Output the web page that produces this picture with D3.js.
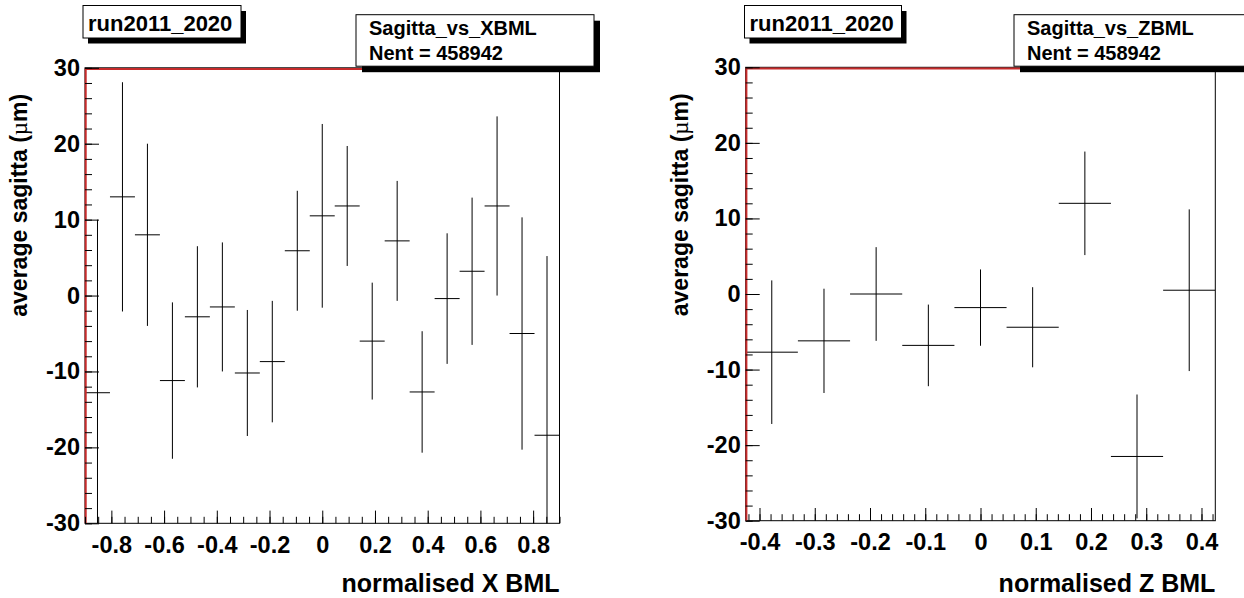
<!DOCTYPE html>
<html>
<head>
<meta charset="utf-8">
<script src="https://cdn.jsdelivr.net/npm/d3@7"></script>
<style>
  body { margin: 0; background: #fff; }
  svg text { font-family: "Liberation Sans", Arial, sans-serif; font-weight: bold; fill: #000; }
  .tick text { font-size: 23.5px; }
</style>
</head>
<body>
<div id="wrapper"></div>
<script>

// 1. Data

const runLabel = "run2011_2020"
const entryCount = 458942
const yTicks = [-30, -20, -10, 0, 10, 20, 30]

// Sagitta vs X BML: 19 bins on [-0.9, 0.9]
const xbmlCenters = [-0.8526, -0.7579, -0.6632, -0.5684, -0.4737, -0.3789, -0.2842, -0.1895, -0.0947, 0,
  0.0947, 0.1895, 0.2842, 0.3789, 0.4737, 0.5684, 0.6632, 0.7579, 0.8526]
const xbmlMean = [-12.8, 13.0, 8.0, -11.2, -2.8, -1.5, -10.2, -8.7, 5.9, 10.5,
  11.8, -6.0, 7.2, -12.7, -0.4, 3.2, 11.8, -5.0, -18.4]
const xbmlErr = [22.8, 15.1, 12.0, 10.3, 9.3, 8.5, 8.3, 8.0, 7.9, 12.1,
  7.9, 7.7, 7.9, 8.0, 8.6, 9.7, 11.8, 15.3, 23.6]
const xbmlTicks = [-0.8, -0.6, -0.4, -0.2, 0, 0.2, 0.4, 0.6, 0.8]

// Sagitta vs Z BML: 9 bins on [-0.425, 0.425]
const zbmlCenters = [-0.3778, -0.2833, -0.1889, -0.0944, 0, 0.0944, 0.1889, 0.2833, 0.3778]
const zbmlMean = [-7.7, -6.2, 0.0, -6.8, -1.8, -4.4, 12.0, -21.5, 0.5]
const zbmlErr = [9.5, 6.9, 6.2, 5.4, 5.05, 5.3, 6.85, 8.2, 10.7]
const zbmlTicks = [-0.4, -0.3, -0.2, -0.1, 0, 0.1, 0.2, 0.3, 0.4]

// 2. Layout

const width = 1244
const height = 598

const panels = [
  {
    name: "Sagitta_vs_XBML", xTitle: "normalised X BML",
    centers: xbmlCenters, mean: xbmlMean, err: xbmlErr, ticks: xbmlTicks,
    domain: [-0.9, 0.9], bins: 19, minorStep: 0.05,
    frame: { left: 85, right: 559.5, top: 67.8, bottom: 523.3 },
    runBox: { x: 83, y: 5.5, w: 158, h: 32.5 },
    statsBox: { x: 356, y: 14.7, w: 238, h: 51.5 },
    yTitleX: 27,
  },
  {
    name: "Sagitta_vs_ZBML", xTitle: "normalised Z BML",
    centers: zbmlCenters, mean: zbmlMean, err: zbmlErr, ticks: zbmlTicks,
    domain: [-0.425, 0.425], bins: 9, minorStep: 0.02,
    frame: { left: 745.7, right: 1215.3, top: 67.3, bottom: 520.7 },
    runBox: { x: 744.5, y: 5.5, w: 157, h: 32.5 },
    statsBox: { x: 1014, y: 14.7, w: 238, h: 51.5 },
    yTitleX: 688,
  },
]

const fmtX = d => d === 0 ? "0" : d.toFixed(1)
const fmtY = d => String(d)

// 3. Canvas

const svg = d3.select("#wrapper")
  .append("svg")
    .attr("width", width)
    .attr("height", height)

panels.forEach((p, idx) => {
  const f = p.frame
  const g = svg.append("g")

  const x = d3.scaleLinear().domain(p.domain).range([f.left, f.right])
  const y = d3.scaleLinear().domain([-30, 30]).range([f.bottom, f.top])

  // frame
  g.append("rect")
    .attr("x", f.left).attr("y", f.top)
    .attr("width", f.right - f.left).attr("height", f.bottom - f.top)
    .attr("fill", "#fff").attr("stroke", "#000").attr("stroke-width", 1)

  const clipId = "clip" + idx
  g.append("clipPath").attr("id", clipId)
    .append("rect")
      .attr("x", f.left).attr("y", f.top)
      .attr("width", f.right - f.left).attr("height", f.bottom - f.top)

  // error bars
  const half = (p.domain[1] - p.domain[0]) / p.bins / 2
  const bars = g.append("g").attr("clip-path", `url(#${clipId})`)
    .attr("stroke", "#000").attr("stroke-width", 1)

  p.centers.forEach((c, i) => {
    bars.append("line")
      .attr("x1", x(c - half)).attr("x2", x(c + half))
      .attr("y1", y(p.mean[i])).attr("y2", y(p.mean[i]))
    bars.append("line")
      .attr("x1", x(c)).attr("x2", x(c))
      .attr("y1", y(p.mean[i] - p.err[i])).attr("y2", y(p.mean[i] + p.err[i]))
  })

  // red outline on left and top
  g.append("path")
    .attr("d", `M${f.left + 0.7},${f.bottom} L${f.left + 0.7},${f.top + 1.3} L${f.right},${f.top + 1.3}`)
    .attr("fill", "none").attr("stroke", "#c62a2a").attr("stroke-width", 2)

  // axes
  const lo = p.domain[0], hi = p.domain[1]
  const minorX = d3.range(Math.ceil(lo / p.minorStep - 1e-6), Math.floor(hi / p.minorStep + 1e-6) + 1)
    .map(k => +(k * p.minorStep).toFixed(3))
  const minorY = d3.range(-15, 16).map(k => k * 2)

  const axisStyle = sel => { sel.select(".domain").remove() }

  g.append("g").attr("transform", `translate(0,${f.bottom})`)
    .call(d3.axisBottom(x).tickValues(minorX).tickSize(-6.5).tickFormat(""))
    .call(axisStyle)
  g.append("g").attr("transform", `translate(0,${f.bottom})`)
    .call(d3.axisBottom(x).tickValues(p.ticks).tickSize(-12.7).tickPadding(13).tickFormat(fmtX))
    .call(axisStyle)

  g.append("g").attr("transform", `translate(${f.left},0)`)
    .call(d3.axisLeft(y).tickValues(minorY).tickSize(-7).tickFormat(""))
    .call(axisStyle)
  g.append("g").attr("transform", `translate(${f.left},0)`)
    .call(d3.axisLeft(y).tickValues(yTicks).tickSize(-14).tickPadding(5).tickFormat(fmtY))
    .call(axisStyle)

  // axis titles
  g.append("text")
    .attr("x", f.right).attr("y", 592)
    .attr("text-anchor", "end")
    .style("font-size", "25px")
    .text(p.xTitle)

  const yTitle = g.append("text")
    .attr("transform", `translate(${p.yTitleX},${f.top + 26}) rotate(-90)`)
    .attr("text-anchor", "end")
    .style("font-size", "23px")
  yTitle.append("tspan").text("average sagitta (")
  yTitle.append("tspan").style("font-family", "'Liberation Serif', serif").style("font-weight", "normal").text("\u00b5")
  yTitle.append("tspan").text("m)")

  // stats box
  const sb = p.statsBox
  g.append("rect")
    .attr("x", sb.x + 6).attr("y", sb.y + 6).attr("width", sb.w).attr("height", sb.h)
    .attr("fill", "#000")
  g.append("rect")
    .attr("x", sb.x).attr("y", sb.y).attr("width", sb.w).attr("height", sb.h)
    .attr("fill", "#fff").attr("stroke", "#000").attr("stroke-width", 1)
  g.append("text")
    .attr("x", sb.x + 13).attr("y", sb.y + 19.8)
    .style("font-size", "20px")
    .text(p.name)
  g.append("text")
    .attr("x", sb.x + 13).attr("y", sb.y + 44.8)
    .style("font-size", "20px")
    .text(`Nent = ${entryCount}`)

  // run label box
  const rb = p.runBox
  g.append("rect")
    .attr("x", rb.x + 5).attr("y", rb.y + 5.5).attr("width", rb.w).attr("height", rb.h)
    .attr("fill", "#000")
  g.append("rect")
    .attr("x", rb.x).attr("y", rb.y).attr("width", rb.w).attr("height", rb.h)
    .attr("fill", "#fff").attr("stroke", "#000").attr("stroke-width", 1)
  g.append("text")
    .attr("x", rb.x + 5).attr("y", rb.y + 25)
    .style("font-size", "22px")
    .text(runLabel)
})

</script>
</body>
</html>
